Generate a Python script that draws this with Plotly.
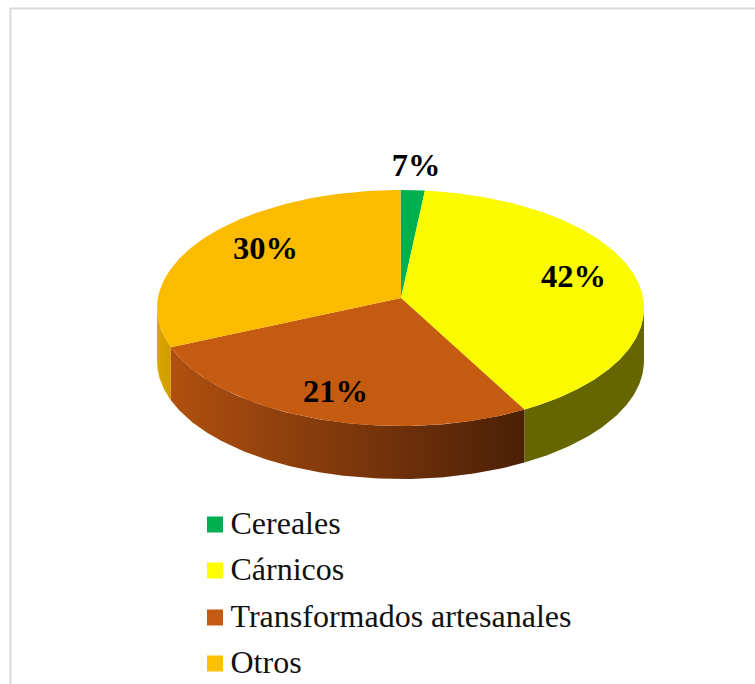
import numpy as np
import plotly.graph_objects as go

# values
categories = ['Cereales', 'Cárnicos', 'Transformados artesanales', 'Otros']
printed_labels = ['7%', '42%', '21%', '30%']
# slice sizes as drawn (the picture does not draw them to the printed %)
drawn_shares = [1.6, 39.9, 28.1, 30.4]

# colours
top_colors = ['#00B050', '#FAFA00', '#C55A11', '#FBBC00']
legend_colors = ['#00B050', '#FFFF00', '#C55A11', '#FFC000']

# pie geometry, in page pixels
cx, cy = 400.5, 308
rx, ry = 243.5, 118
apex_x, apex_y = 401, 298
depth = 53

label_pos = [(416, 168), (573.5, 279), (335.5, 394), (265.5, 251)]
legend_x = 215
legend_y = [524.5, 570.5, 617.5, 663.5]


def rim(deg, drop=0):
    t = np.radians(deg)
    return cx + rx * np.sin(t), cy - ry * np.cos(t) + drop


fig = go.Figure()

edges = np.cumsum([0] + drawn_shares) * 3.6

# walls first, only the front half of the pie shows one
wall_styles = [
    None,
    dict(fillcolor='#666600'),
    dict(fillgradient=dict(type='horizontal',
                           colorscale=[[0, '#B0500F'], [0.65, '#6E300A'], [1, '#4A2005']])),
    dict(fillgradient=dict(type='horizontal',
                           colorscale=[[0, '#DCA600'], [1, '#D09C00']])),
]
for i, cat in enumerate(categories):
    a, b = max(edges[i], 90), min(edges[i + 1], 270)
    if b <= a or wall_styles[i] is None:
        continue
    deg = np.linspace(a, b, 120)
    xt, yt = rim(deg)
    xb, yb = rim(deg[::-1], depth)
    fig.add_trace(go.Scatter(
        x=np.r_[xt, xb], y=np.r_[yt, yb],
        mode='lines', line=dict(width=0), fill='toself',
        hoverinfo='skip', showlegend=False, **wall_styles[i]))

# top face
for i, cat in enumerate(categories):
    deg = np.linspace(edges[i], edges[i + 1], 160)
    xt, yt = rim(deg)
    fig.add_trace(go.Scatter(
        x=np.r_[apex_x, xt, apex_x], y=np.r_[apex_y, yt, apex_y],
        mode='lines', line=dict(width=0), fill='toself', fillcolor=top_colors[i],
        name=cat, hoverinfo='name', showlegend=False))

# percent labels
fig.add_trace(go.Scatter(
    x=[p[0] for p in label_pos], y=[p[1] for p in label_pos],
    mode='text', text=printed_labels, textposition='middle center',
    textfont=dict(family='Liberation Serif', size=32.5, color='black'),
    texttemplate='<b>%{text}</b>', hoverinfo='skip', showlegend=False))

# legend
fig.add_trace(go.Scatter(
    x=[legend_x] * 4, y=legend_y,
    mode='markers', marker=dict(symbol='square', size=16, color=legend_colors, line=dict(width=0)),
    hoverinfo='skip', showlegend=False))
fig.add_trace(go.Scatter(
    x=[legend_x + 15.5] * 4, y=[v + 1 for v in legend_y],
    mode='text', text=categories, textposition='middle right',
    textfont=dict(family='Liberation Serif', size=32, color='#111111'),
    hoverinfo='skip', showlegend=False))

fig.update_layout(
    width=755, height=684,
    margin=dict(l=0, r=0, t=0, b=0),
    paper_bgcolor='white', plot_bgcolor='white',
    xaxis=dict(range=[0, 755], visible=False, fixedrange=True),
    yaxis=dict(range=[684, 0], visible=False, fixedrange=True),
    showlegend=False,
    shapes=[
        dict(type='line', xref='paper', yref='paper', x0=10.5/755, x1=10.5/755, y0=0, y1=1 - 8/684,
             line=dict(color='#D9D9D9', width=2)),
        dict(type='line', xref='paper', yref='paper', x0=10/755, x1=1, y0=1 - 8.5/684, y1=1 - 8.5/684,
             line=dict(color='#D9D9D9', width=2)),
    ],
)

fig.write_html("out.html", config=dict(displayModeBar=False),
               post_script="document.body.style.margin='0';document.documentElement.style.overflow='hidden';")
